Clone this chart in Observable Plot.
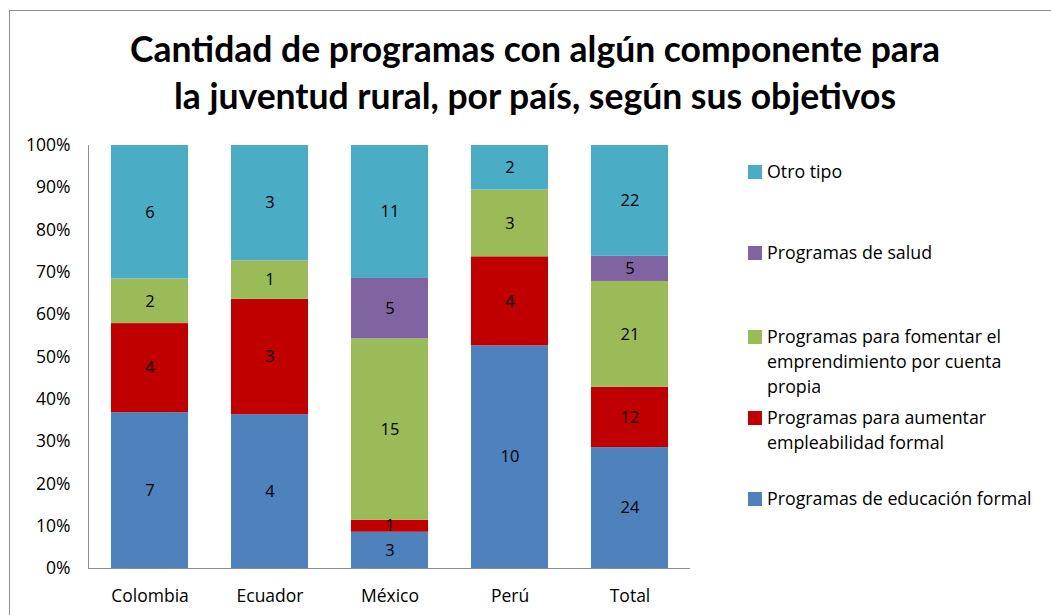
<!DOCTYPE html>
<html>
<head>
<meta charset="utf-8">
<script src="https://cdn.jsdelivr.net/npm/d3@7"></script>
<script src="https://cdn.jsdelivr.net/npm/@observablehq/plot@0.6"></script>
<style>
  html, body { margin: 0; padding: 0; background: #fff; }
  body { width: 1051px; height: 615px; position: relative; overflow: hidden; font-family: "Open Sans", Lato, sans-serif; }
  #frame { position: absolute; left: 9px; top: 10px; width: 1100px; height: 700px; border-left: 1px solid #8c8c8c; border-top: 1px solid #8c8c8c; }
  #title { position: absolute; left: 0; width: 1070px; top: 25px; text-align: center; font-family: Lato, sans-serif; font-weight: bold; font-size: 35.5px; line-height: 47px; color: #000; }
  #chart { position: absolute; left: 0; top: 130px; }
  #legend { position: absolute; left: 748px; top: 0; font-size: 17.8px; color: #000; }
  .item { position: absolute; left: 0; white-space: nowrap; line-height: 25px; }
  .sw { position: absolute; left: 0; top: 6px; width: 14px; height: 14px; }
  .lab { position: absolute; left: 19px; top: 0; }
</style>
</head>
<body>
<div id="frame"></div>
<div id="title">Cantidad de programas con algún componente para<br>la juventud rural, por país, según sus objetivos</div>
<div id="chart"></div>
<div id="legend"></div>
<script>
const countries = ["Colombia", "Ecuador", "México", "Perú", "Total"];
const categories = [
  "Programas de educación formal",
  "Programas para aumentar empleabilidad formal",
  "Programas para fomentar el emprendimiento por cuenta propia",
  "Programas de salud",
  "Otro tipo"
];
const colors = ["#4F81BD", "#C00000", "#9BBB59", "#8064A2", "#4BACC6"];
const educacion = [7, 4, 3, 10, 24];
const empleabilidad = [4, 3, 1, 4, 12];
const emprendimiento = [2, 1, 15, 3, 21];
const salud = [0, 0, 5, 0, 5];
const otro = [6, 3, 11, 2, 22];
const yTicks = [0, 0.1, 0.2, 0.3, 0.4, 0.5, 0.6, 0.7, 0.8, 0.9, 1];
const legendLines = [
  ["Otro tipo"],
  ["Programas de salud"],
  ["Programas para fomentar el", "emprendimiento por cuenta", "propia"],
  ["Programas para aumentar", "empleabilidad formal"],
  ["Programas de educación formal"]
];
const legendColors = ["#4BACC6", "#8064A2", "#9BBB59", "#C00000", "#4F81BD"];
const legendTops = [159, 240, 324, 405, 486];

const series = [educacion, empleabilidad, emprendimiento, salud, otro];
const data = [];
categories.forEach((cat, ci) => {
  countries.forEach((c, i) => {
    data.push({country: c, category: cat, order: ci, value: series[ci][i]});
  });
});
const nonzero = data.filter(d => d.value > 0);

const plot = Plot.plot({
  width: 700,
  height: 483,
  marginLeft: 88,
  marginRight: 10,
  marginTop: 15,
  marginBottom: 45,
  style: {fontFamily: "'Open Sans', Lato, sans-serif", fontSize: "17px", color: "#000", background: "transparent"},
  x: {domain: countries, paddingInner: 0.36, paddingOuter: 0.18, label: null, tickSize: 0, tickPadding: 21},
  y: {domain: [0, 1], ticks: yTicks, tickFormat: d => Math.round(d * 100) + "%", label: null, tickSize: 0, tickPadding: 18},
  color: {domain: categories, range: colors},
  marks: [
    Plot.barY(nonzero, Plot.stackY({offset: "normalize", order: "order"}, {x: "country", y: "value", fill: "category", inset: 0})),
    Plot.text(nonzero, Plot.stackY({offset: "normalize", order: "order"}, {x: "country", y: "value", text: d => String(d.value), fill: "#000", fontSize: 16.5})),
    Plot.axisX({tickSize: 0, tickPadding: 21, fontSize: 17.5, label: null}),
    Plot.axisY({ticks: yTicks, tickFormat: d => Math.round(d * 100) + "%", tickSize: 0, tickPadding: 18, fontSize: 17.5, label: null}),
    Plot.ruleY([0], {stroke: "#8c8c8c"})
  ]
});
document.getElementById("chart").appendChild(plot);

const svg = d3.select(plot);
svg.append("line").attr("x1", 88.5).attr("x2", 88.5).attr("y1", 15).attr("y2", 438).attr("stroke", "#8c8c8c");

const leg = document.getElementById("legend");
legendLines.forEach((lines, i) => {
  const it = document.createElement("div");
  it.className = "item";
  it.style.top = legendTops[i] + "px";
  const sw = document.createElement("div");
  sw.className = "sw";
  sw.style.background = legendColors[i];
  const lab = document.createElement("div");
  lab.className = "lab";
  lab.innerHTML = lines.join("<br>");
  it.appendChild(sw);
  it.appendChild(lab);
  leg.appendChild(it);
});
</script>
</body>
</html>
